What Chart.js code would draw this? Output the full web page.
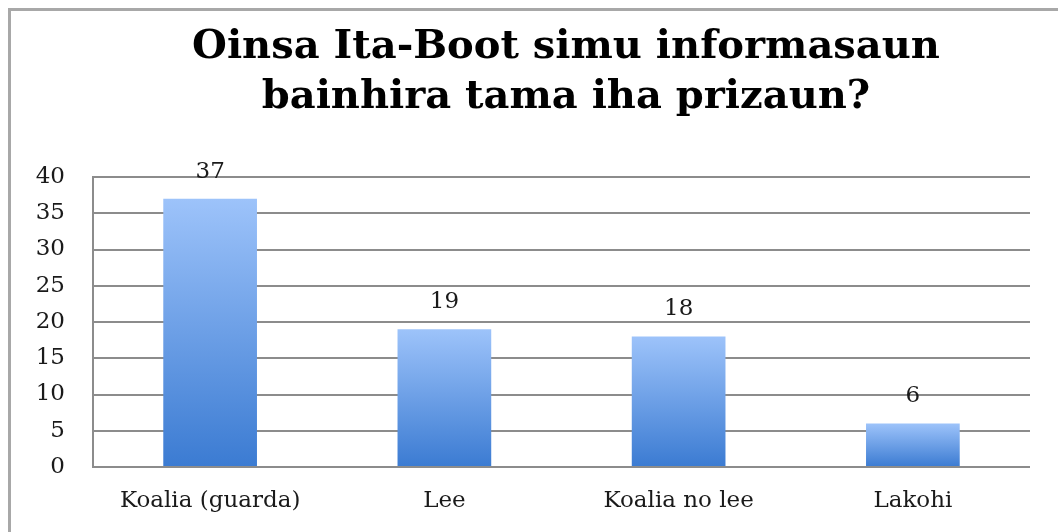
<!DOCTYPE html>
<html>
<head>
<meta charset="utf-8">
<script src="https://cdn.jsdelivr.net/npm/chart.js@4/dist/chart.umd.min.js"></script>
<style>
  html, body { margin: 0; padding: 0; background: #fff; overflow: hidden; }
  #wrap { position: relative; width: 1058px; height: 532px; }
  #frame { position: absolute; left: 8px; top: 8px; width: 1100px; height: 600px;
           border: 3px solid #a8a8a8; box-sizing: border-box; }
  #chart { position: absolute; left: 0; top: 0; }
</style>
</head>
<body>
<div id="wrap">
  <div id="frame"></div>
  <canvas id="chart" width="1058" height="532"></canvas>
</div>
<script>
// data
const categories = ['Koalia (guarda)', 'Lee', 'Koalia no lee', 'Lakohi'];
const answers = [37, 19, 18, 6];
const titleLines = ['Oinsa Ita-Boot simu informasaun', 'bainhira tama iha prizaun?'];

const serif = '"DejaVu Serif", "Liberation Serif", serif';

// gradient per bar, light at top, darker at the base
function barFill(ctx) {
  const chart = ctx.chart;
  const area = chart.chartArea;
  if (!area || ctx.type !== 'data') return '#6a9be6';
  const y = chart.scales.y;
  const top = y.getPixelForValue(ctx.raw);
  const bottom = y.getPixelForValue(0);
  const g = chart.ctx.createLinearGradient(0, top, 0, bottom);
  g.addColorStop(0, '#9dc3fa');
  g.addColorStop(1, '#3b7bd2');
  return g;
}

const valueLabels = {
  id: 'valueLabels',
  afterDatasetsDraw(chart) {
    const c = chart.ctx;
    const meta = chart.getDatasetMeta(0);
    c.save();
    c.font = '23px ' + serif;
    c.fillStyle = '#1a1a1a';
    c.textAlign = 'center';
    c.textBaseline = 'middle';
    meta.data.forEach((bar, i) => {
      c.fillText(String(answers[i]), bar.x, bar.y - 27);
    });
    c.restore();
  }
};

// title sits a bit right of the canvas centre, like the original
const titleText = {
  id: 'titleText',
  afterDraw(chart) {
    const c = chart.ctx;
    c.save();
    c.font = 'bold 40px ' + serif;
    c.fillStyle = '#000';
    c.textAlign = 'center';
    c.textBaseline = 'middle';
    titleLines.forEach((line, i) => c.fillText(line, 566, 48 + i * 50));
    c.restore();
  }
};

const config = {
  type: 'bar',
  data: {
    labels: categories,
    datasets: [{
      data: answers,
      backgroundColor: barFill,
      borderWidth: 0,
      categoryPercentage: 1,
      barPercentage: 0.4,
    }],
  },
  options: {
    responsive: false,
    animation: false,
    layout: { padding: { left: 0, right: 28, top: 177, bottom: 0 } },
    plugins: {
      legend: { display: false },
      tooltip: { enabled: false },
      title: { display: false },
    },
    scales: {
      x: {
        grid: { display: false },
        border: { display: false },
        ticks: { color: '#1a1a1a', font: { family: serif, size: 23 }, padding: 12 },
        afterFit(scale) { scale.height = 65; },
      },
      y: {
        min: 0,
        max: 40,
        ticks: { stepSize: 5, color: '#1a1a1a', font: { family: serif, size: 23 }, padding: 28 },
        grid: { color: '#8c8c8c', lineWidth: 2, drawTicks: false },
        border: { display: true, color: '#8c8c8c', width: 2 },
        afterFit(scale) { scale.width = 93; },
      },
    },
  },
  plugins: [valueLabels, titleText],
};

new Chart(document.getElementById('chart'), config);
</script>
</body>
</html>
